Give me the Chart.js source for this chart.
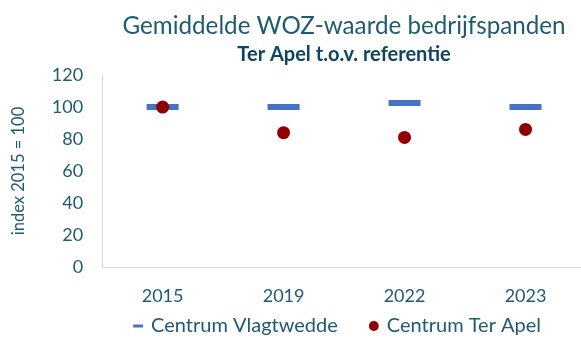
<!DOCTYPE html>
<html>
<head>
<meta charset="utf-8">
<script src="https://cdn.jsdelivr.net/npm/chart.js@4.4.1/dist/chart.umd.min.js"></script>
<style>
  html, body { margin: 0; padding: 0; background: #ffffff; overflow: hidden; }
  #wrap { width: 608px; height: 338px; position: relative; }
</style>
</head>
<body>
<div id="wrap"><canvas id="chart"></canvas></div>
<script>
// Gemiddelde WOZ-waarde bedrijfspanden, index 2015 = 100
const years = ['2015', '2019', '2022', '2023'];
const vlagtwedde = [100, 100, 102.5, 100];
const terApel = [100, 84, 81, 86];
const yTicks = [0, 20, 40, 60, 80, 100, 120];

const FONT = 'Lato, "Open Sans", sans-serif';
const TEXT = '#1e5b70';
const BLUE = '#4472C4';
const RED = '#910000';

// The x axis keeps a short layout box so the legend sits close under it;
// its labels are allowed to draw below that box.
const xLabelRoom = {
  id: 'xLabelRoom',
  afterLayout(chart) {
    chart.scales.x.bottom = chart.height;
  }
};

new Chart(document.getElementById('chart'), {
  type: 'line',
  data: {
    labels: years,
    datasets: [
      {
        label: 'Centrum Vlagtwedde',
        data: vlagtwedde,
        showLine: false,
        pointStyle: 'line',
        pointRadius: 16,
        pointHoverRadius: 16,
        borderColor: BLUE,
        backgroundColor: BLUE,
        pointBorderWidth: 6,
        order: 2
      },
      {
        label: 'Centrum Ter Apel',
        data: terApel,
        showLine: false,
        pointStyle: 'circle',
        pointRadius: 6.5,
        pointHoverRadius: 6.5,
        borderColor: RED,
        backgroundColor: RED,
        pointBorderWidth: 0,
        order: 1
      }
    ]
  },
  plugins: [xLabelRoom],
  options: {
    responsive: true,
    maintainAspectRatio: false,
    animation: false,
    layout: { padding: { left: 9, right: 0, top: 12, bottom: 0 } },
    scales: {
      x: {
        type: 'category',
        offset: true,
        grid: { display: false, drawTicks: false },
        border: { color: '#d9d9d9', width: 1 },
        ticks: { color: TEXT, font: { family: FONT, size: 18 }, padding: 18 },
        afterFit: (scale) => { scale.height = 16; }
      },
      y: {
        min: 0,
        max: 120,
        afterBuildTicks: (scale) => { scale.ticks = yTicks.map(v => ({ value: v })); },
        grid: { display: false, drawTicks: false },
        border: { color: '#d9d9d9', width: 1 },
        ticks: { color: TEXT, font: { family: FONT, size: 18 }, padding: 19 },
        title: {
          display: true,
          text: 'index 2015 = 100',
          color: TEXT,
          font: { family: FONT, size: 16.5 },
          padding: { top: 0, bottom: 4 }
        }
      }
    },
    plugins: {
      title: {
        display: true,
        text: 'Gemiddelde WOZ-waarde bedrijfspanden',
        color: TEXT,
        fullSize: false,
        font: { family: FONT, size: 24.2, weight: 'normal' },
        padding: { top: 0, bottom: 2 }
      },
      subtitle: {
        display: true,
        text: 'Ter Apel t.o.v. referentie',
        color: '#0c4560',
        fullSize: false,
        font: { family: FONT, size: 20, weight: 'bold' },
        padding: { top: 0, bottom: 8 }
      },
      legend: {
        position: 'bottom',
        align: 'start',
        fullSize: false,
        maxHeight: 55,
        labels: {
          color: TEXT,
          font: { family: FONT, size: 20 },
          usePointStyle: true,
          boxHeight: 7,
          boxWidth: 6,
          padding: 33,
          generateLabels: (c) => c.data.datasets.map((ds, i) => ({
            text: ds.label,
            pointStyle: ds.pointStyle,
            fillStyle: ds.backgroundColor,
            strokeStyle: ds.borderColor,
            lineWidth: ds.pointStyle === 'line' ? 3 : 0,
            fontColor: TEXT,
            hidden: false,
            datasetIndex: i
          }))
        }
      },
      tooltip: { enabled: false }
    }
  }
});
</script>
</body>
</html>
